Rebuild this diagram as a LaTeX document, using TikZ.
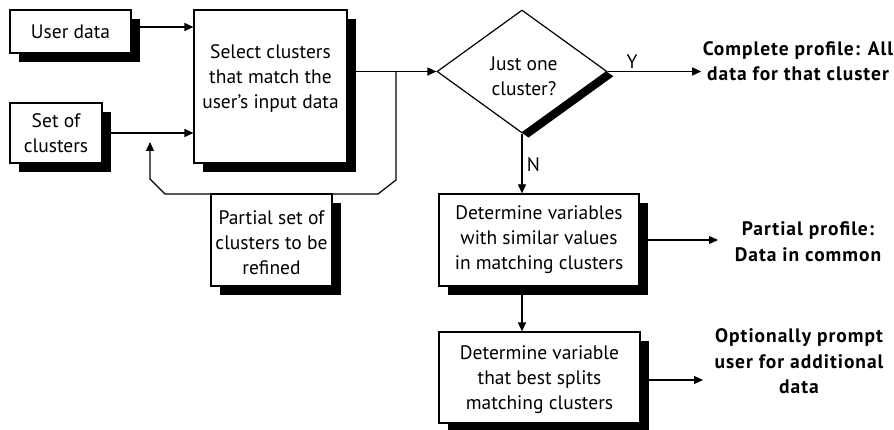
\documentclass[tikz,border=0pt]{standalone}
\usepackage{fontspec}
\setmainfont{PT Sans}
\usetikzlibrary{shapes.geometric,shadows,arrows.meta}

\begin{document}
\begin{tikzpicture}[x=1pt,y=-1pt,
        >={Triangle[length=9pt,width=8pt]},
        every path/.style={line width=1.2pt},
        every node/.style={font=\fontsize{19.5}{25}\selectfont, align=center},
        box/.style={draw, fill=white, inner sep=0pt,
            drop shadow={shadow xshift=8.5pt, shadow yshift=-9pt, fill=black, opacity=1}},
        result/.style={font=\fontsize{19.5}{25.5}\selectfont\bfseries\addfontfeature{LetterSpace=5},
            inner sep=1pt}]
        \useasboundingbox (0,0) rectangle (894,430);
        % inputs
        \node[box, minimum width=121, minimum height=43] (userdata) at (70.5,31.5) {User data};
        \node[box, minimum width=92, minimum height=60] (clusters) at (56,133) {Set of\\clusters};
        \node[box, minimum width=153, minimum height=153] (select) at (270.5,86.5) {};
        \node[] (selecttext) at (270.5,79) {Select clusters\\that match the\\user's input data};
        \coordinate (userout) at ([yshift=4.5pt]userdata.east);
        \draw[->] (userout) -- (userout -| select.west);
        \draw[->] (clusters.east) -- (select.west |- clusters.east);
        % decision
        \node[diamond, draw, fill=white, inner sep=0pt, minimum width=170, minimum height=123,
            drop shadow={shadow xshift=6.5pt, shadow yshift=-4.8pt, fill=black, opacity=1}]
            (onecluster) at (522,71.5) {};
        \node[] (onetext) at (524,76) {Just one\\cluster?};
        \coordinate (split) at (396,71.5);
        \draw[->] (select.east |- split) -- (onecluster.west);
        % loop back
        \coordinate (looptip) at (150,142);
        \draw[->] (split) -- (396,180) -- (378,194) -- (165,194) -- (150,179) -- (looptip);
        \node[box, minimum width=121, minimum height=92] (partial) at (271.5,240) {};
        \node[] (partialtext) at (271.5,242.5) {Partial set of\\clusters to be\\refined};
        % complete profile
        \node[result] (complete) at (798,61) {Complete profile: All\\data for that cluster};
        \draw[->] (onecluster.east) -- (onecluster.east -| complete.west);
        \node[] (yes) at (632,62) {Y};
        % partial profile
        \node[box, minimum width=200, minimum height=92] (detvars) at (539,240)
            {Determine variables\\with similar values\\in matching clusters};
        \draw[->] (onecluster.south) -- (onecluster.south |- detvars.north);
        \node[anchor=west] (no) at (523,165) {N};
        \node[result] (partprof) at (808,241.5) {Partial profile:\\Data in common};
        \coordinate (parttip) at (718,240);
        \draw[->] (detvars.east) -- (parttip);
        % split variable
        \node[box, minimum width=201, minimum height=91] (detvar) at (539.5,377.5) {};
        \node[] (detvartext) at (539.5,380) {Determine variable\\that best splits\\matching clusters};
        \draw[->] (detvars.south -| onecluster.south) -- (detvar.north -| onecluster.south);
        \node[result] (prompt) at (799,361.5) {Optionally prompt\\user for additional\\data};
        \coordinate (prompttip) at (703,380);
        \draw[->] (detvar.east |- prompttip) -- (prompttip);
    \end{tikzpicture}
\end{document}
